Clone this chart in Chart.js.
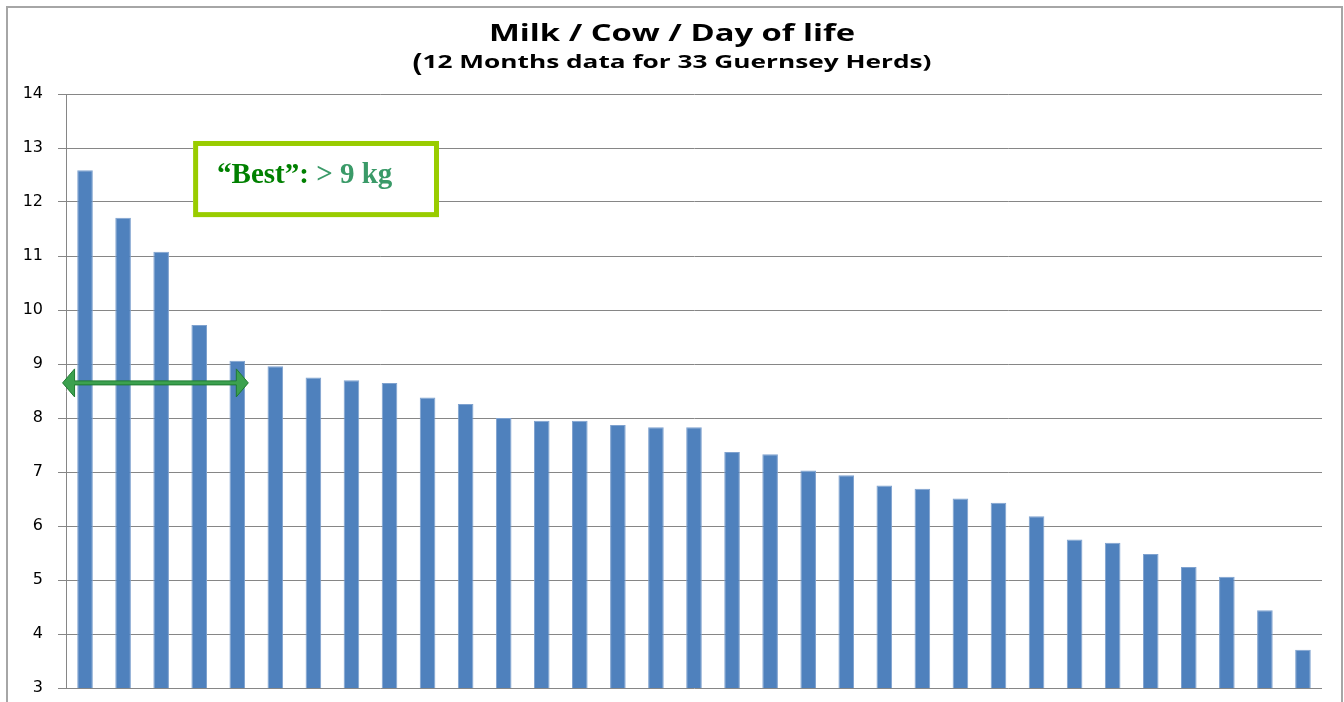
<!DOCTYPE html>
<html>
<head>
<meta charset="utf-8">
<script src="https://cdn.jsdelivr.net/npm/chart.js@4.4.0/dist/chart.umd.min.js"></script>
<style>
  html, body { margin: 0; padding: 0; background: #fff; overflow: hidden; }
  canvas { display: block; }
</style>
</head>
<body>
<canvas id="milkChart" width="1344" height="702"></canvas>
<script>
// Milk / Cow / Day of life - 33 Guernsey herds, sorted high to low
const herds = ['H1','H2','H3','H4','H5','H6','H7','H8','H9','H10','H11','H12','H13','H14','H15','H16','H17',
               'H18','H19','H20','H21','H22','H23','H24','H25','H26','H27','H28','H29','H30','H31','H32','H33'];
const milkPerDay = [12.59, 11.71, 11.08, 9.72, 9.06, 8.96, 8.75, 8.70, 8.65, 8.38, 8.26, 8.00, 7.95, 7.95, 7.87, 7.83, 7.83,
                    7.37, 7.33, 7.03, 6.94, 6.75, 6.69, 6.51, 6.43, 6.18, 5.75, 5.69, 5.48, 5.24, 5.06, 4.44, 3.71];
const yTicks = [3, 14];  // min, max of the value axis

const titleText = 'Milk / Cow / Day of life';
const subtitleText = '(12 Months data for 33 Guernsey Herds)';
const bestLabel = ['\u201cBest\u201d:', ' > 9 kg'];
const bestLevel = 8.65;   // arrow height on the value axis
const bestRange = [-0.59, 4.29]; // arrow span in category units
const boxRange = { x: [2.84, 9.30], y: [13.13, 11.72] };

const GRID = '#868686';
const BAR = '#4F81BD';

// draw text squeezed/stretched to a given width (source slide was stretched sideways)
function fitText(ctx, text, x, y, font, width) {
    ctx.font = font;
    const sx = width / ctx.measureText(text).width;
    ctx.save();
    ctx.translate(x, y);
    ctx.scale(sx, 1);
    ctx.fillText(text, 0, 0);
    ctx.restore();
}

const decor = {
    id: 'decor',
    beforeDraw(chart) {
        const ctx = chart.ctx;
        ctx.save();
        ctx.fillStyle = '#fff';
        ctx.fillRect(0, 0, chart.width, chart.height);
        ctx.strokeStyle = '#a6a6a6';
        ctx.lineWidth = 2;
        ctx.strokeRect(7, 7, chart.width - 9, chart.height + 20);
        ctx.restore();
    },
    afterDraw(chart) {
        const ctx = chart.ctx;
        const cx = chart.width / 2;
        ctx.save();
        ctx.fillStyle = '#000';
        ctx.textBaseline = 'alphabetic';

        const tw = 366;
        fitText(ctx, titleText, cx - tw / 2, 41, 'bold 23px "Open Sans"', tw);

        // subtitle: the opening bracket is set larger
        const open = subtitleText[0], rest = subtitleText.slice(1);
        const sw = 509;
        const x0 = cx - (sw + 10) / 2;
        fitText(ctx, open, x0, 71, 'bold 25px "Open Sans"', 10);
        fitText(ctx, rest, x0 + 10, 68, 'bold 17px "Open Sans"', sw);
        ctx.restore();

        // "Best" box and double arrow, placed through the scales
        const xs = chart.scales.x, ys = chart.scales.y;
        const c0 = xs.getPixelForValue(0);
        const step = xs.getPixelForValue(1) - c0;
        const px = v => c0 + v * step;

        const bl = px(boxRange.x[0]), br = px(boxRange.x[1]);
        const bt = ys.getPixelForValue(boxRange.y[0]), bb = ys.getPixelForValue(boxRange.y[1]);
        ctx.save();
        ctx.fillStyle = '#fff';
        ctx.fillRect(bl, bt, br - bl, bb - bt);
        ctx.strokeStyle = '#99CC00';
        ctx.lineWidth = 5;
        ctx.strokeRect(bl + 2.5, bt + 2.5, br - bl - 5, bb - bt - 5);
        ctx.font = 'bold 29px "Liberation Serif"';
        ctx.fillStyle = '#008000';
        ctx.fillText(bestLabel[0], bl + 24, bt + 42);
        const lw = ctx.measureText(bestLabel[0]).width;
        ctx.fillStyle = '#3a9a68';
        ctx.fillText(bestLabel[1], bl + 24 + lw, bt + 42);
        ctx.restore();

        const ay = ys.getPixelForValue(bestLevel);
        const ax0 = px(bestRange[0]), ax1 = px(bestRange[1]);
        const hw = 12, hh = 14, sh = 2;
        ctx.save();
        ctx.beginPath();
        ctx.moveTo(ax0, ay);
        ctx.lineTo(ax0 + hw, ay - hh);
        ctx.lineTo(ax0 + hw, ay - sh);
        ctx.lineTo(ax1 - hw, ay - sh);
        ctx.lineTo(ax1 - hw, ay - hh);
        ctx.lineTo(ax1, ay);
        ctx.lineTo(ax1 - hw, ay + hh);
        ctx.lineTo(ax1 - hw, ay + sh);
        ctx.lineTo(ax0 + hw, ay + sh);
        ctx.lineTo(ax0 + hw, ay + hh);
        ctx.closePath();
        ctx.fillStyle = '#3ca14f';
        ctx.fill();
        ctx.strokeStyle = '#1f7a31';
        ctx.lineWidth = 1;
        ctx.stroke();
        ctx.restore();
    }
};

new Chart(document.getElementById('milkChart'), {
    type: 'bar',
    data: {
        labels: herds,
        datasets: [{
            label: 'Milk / Cow / Day of life',
            data: milkPerDay,
            backgroundColor: BAR,
            borderColor: '#7fa2cf',
            borderWidth: { left: 1, right: 1, top: 1, bottom: 0 },
            barPercentage: 0.41,
            categoryPercentage: 1.0
        }]
    },
    options: {
        responsive: false,
        animation: false,
        layout: { padding: { left: 8, right: 22, top: 94, bottom: 14 } },
        plugins: {
            legend: { display: false },
            title: { display: false },
            tooltip: { enabled: false }
        },
        scales: {
            x: {
                display: false,
                grid: { display: false }
            },
            y: {
                min: yTicks[0],
                max: yTicks[1],
                ticks: {
                    stepSize: 1,
                    padding: 15,
                    color: '#000',
                    font: { family: 'DejaVu Sans', size: 16 }
                },
                grid: { color: GRID, lineWidth: 1, tickLength: 8, tickColor: GRID },
                border: { color: GRID, width: 1 },
                afterFit(scale) {
                    scale.width = 58;
                    scale.paddingTop = 0;
                    scale.paddingBottom = 0;
                }
            }
        }
    },
    plugins: [decor]
});
</script>
</body>
</html>
